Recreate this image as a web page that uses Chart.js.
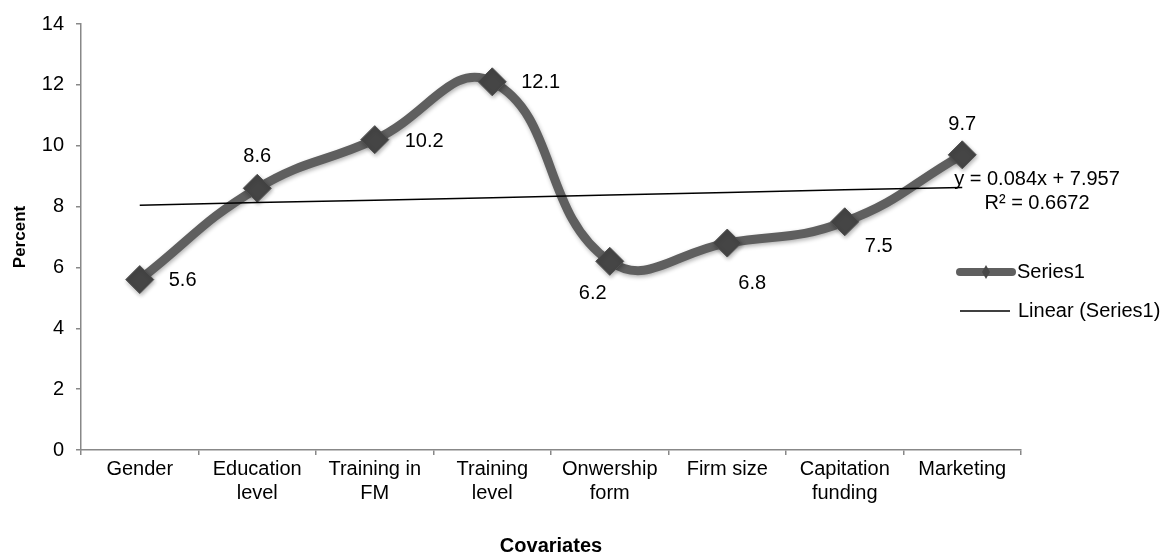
<!DOCTYPE html>
<html>
<head>
<meta charset="utf-8">
<script src="https://cdn.jsdelivr.net/npm/chart.js@4.4.1/dist/chart.umd.min.js"></script>
<style>
  html, body { margin: 0; padding: 0; background: #fff; }
  #wrap { width: 1175px; height: 555px; }
</style>
</head>
<body>
<div id="wrap"><canvas id="chart1" width="1175" height="555"></canvas></div>
<script>
// categories and values
var covariates = [
  "Gender", ["Education", "level"], ["Training in", "FM"], ["Training", "level"],
  ["Onwership", "form"], "Firm size", ["Capitation", "funding"], "Marketing"
];
var series1 = [5.6, 8.6, 10.2, 12.1, 6.2, 6.8, 7.5, 9.7];
// linear trend as drawn (y = 0.084x + 7.957)
var trendSeries1 = [8.04, 8.13, 8.21, 8.29, 8.38, 8.46, 8.55, 8.63];
var yTicks = [0, 2, 4, 6, 8, 10, 12, 14];

// offset of each value label from its point (px)
var labelOffX = [29, 0, 30, 29, -17, 25, 34, 0];
var labelOffY = [1, -32, 2, 1, 32, 40, 25, -30];
var labelAlign = ["left", "center", "left", "left", "center", "center", "center", "center"];

var fontName = "'Liberation Sans', Arial, sans-serif";
var txtSize = 20;

const labelsPlugin = {
  id: 'extras',
  afterDatasetsDraw(chart) {
    const ctx = chart.ctx;
    const meta = chart.getDatasetMeta(0);
    ctx.save();
    ctx.font = txtSize + "px " + fontName;
    ctx.fillStyle = "#000";
    ctx.textBaseline = "middle";
    meta.data.forEach(function (pt, i) {
      ctx.textAlign = labelAlign[i];
      ctx.fillText(String(series1[i]), pt.x + labelOffX[i], pt.y + labelOffY[i]);
    });

    // trendline equation
    ctx.textAlign = "center";
    ctx.fillText("y = 0.084x + 7.957", 1037, 179);
    ctx.fillText("R\u00b2 = 0.6672", 1037, 203);

    // legend
    ctx.textAlign = "left";
    ctx.lineCap = "round";
    ctx.strokeStyle = "#5f5f5f";
    ctx.lineWidth = 8;
    ctx.beginPath();
    ctx.moveTo(960, 272);
    ctx.lineTo(1012, 272);
    ctx.stroke();
    ctx.fillStyle = "#484848";
    ctx.beginPath();
    ctx.moveTo(986, 265); ctx.lineTo(990, 272); ctx.lineTo(986, 279); ctx.lineTo(982, 272);
    ctx.closePath();
    ctx.fill();
    ctx.lineCap = "butt";
    ctx.strokeStyle = "#000";
    ctx.lineWidth = 1.5;
    ctx.beginPath();
    ctx.moveTo(960, 311);
    ctx.lineTo(1010, 311);
    ctx.stroke();
    ctx.fillStyle = "#000";
    ctx.fillText("Series1", 1017, 272);
    ctx.fillText("Linear (Series1)", 1018, 311);
    ctx.restore();
  }
};

const shadowPlugin = {
  id: 'markerShadow',
  beforeDatasetDraw(chart, args) {
    if (args.index === 0) {
      chart.ctx.save();
      chart.ctx.shadowColor = "rgba(0,0,0,0.3)";
      chart.ctx.shadowBlur = 4;
      chart.ctx.shadowOffsetX = 1;
      chart.ctx.shadowOffsetY = 2;
    }
  },
  afterDatasetDraw(chart, args) {
    if (args.index === 0) chart.ctx.restore();
  }
};

new Chart(document.getElementById('chart1'), {
  type: 'line',
  data: {
    labels: covariates,
    datasets: [{
      label: 'Series1',
      data: series1,
      borderColor: '#5f5f5f',
      borderWidth: 9,
      tension: 0.45,
      pointStyle: 'rectRot',
      pointRadius: 14,
      pointBackgroundColor: '#454545',
      pointBorderColor: '#505050',
      pointBorderWidth: 1,
      order: 1
    }, {
      label: 'Linear (Series1)',
      data: trendSeries1,
      borderColor: '#000',
      borderWidth: 1.5,
      pointRadius: 0,
      tension: 0,
      order: 0
    }]
  },
  options: {
    responsive: false,
    animation: false,
    events: [],
    layout: { padding: { top: 12, right: 154, left: 0, bottom: 0 } },
    plugins: { legend: { display: false }, tooltip: { enabled: false } },
    scales: {
      x: {
        offset: true,
        grid: { offset: true, drawOnChartArea: false, tickLength: 5, color: '#888', lineWidth: 1.5 },
        border: { color: '#888', width: 1.5 },
        ticks: { color: '#000', font: { family: fontName, size: txtSize }, maxRotation: 0, autoSkip: false, padding: 2 },
        title: { display: true, text: 'Covariates', color: '#000', font: { family: fontName, size: 20, weight: 'bold' }, padding: { top: 30, bottom: -3 } },
        afterFit: function (scale) { scale.height = 105; }
      },
      y: {
        min: 0,
        max: 14,
        afterBuildTicks: function (scale) { scale.ticks = yTicks.map(function (v) { return { value: v }; }); },
        grid: { drawOnChartArea: false, tickLength: 5, color: '#888', lineWidth: 1.5 },
        border: { color: '#888', width: 1.5 },
        ticks: { color: '#000', font: { family: fontName, size: txtSize }, padding: 12 },
        title: { display: true, text: 'Percent', color: '#000', font: { family: fontName, size: 17, weight: 'bold' }, padding: { top: 10 } },
        afterFit: function (scale) { scale.width = 81; }
      }
    }
  },
  plugins: [shadowPlugin, labelsPlugin]
});
</script>
</body>
</html>
